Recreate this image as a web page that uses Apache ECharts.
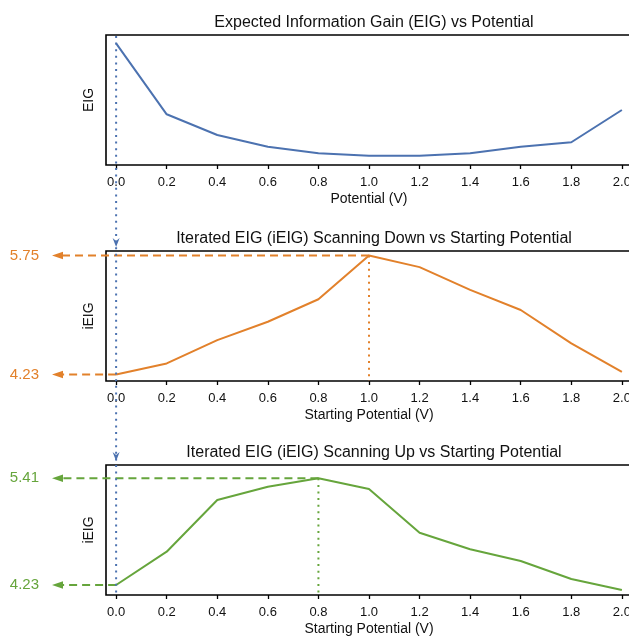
<!DOCTYPE html>
<html>
<head>
<meta charset="utf-8">
<script src="https://cdn.jsdelivr.net/npm/echarts@6/dist/echarts.min.js"></script>
<style>
html,body{margin:0;padding:0;background:#fff;}
#main{width:629px;height:637px;}
</style>
</head>
<body>
<div id="main"></div>
<script>
// ---- data ----
const potentials = [0.0, 0.2, 0.4, 0.6, 0.8, 1.0, 1.2, 1.4, 1.6, 1.8, 2.0];
const tickValues = [0.0, 0.2, 0.4, 0.6, 0.8, 1.0, 1.2, 1.4, 1.6, 1.8, 2.0];
const eigValues = [0.936, 0.390, 0.231, 0.141, 0.090, 0.072, 0.072, 0.090, 0.141, 0.175, 0.423];
const iEigDown = [4.23, 4.371, 4.669, 4.904, 5.191, 5.75, 5.601, 5.310, 5.054, 4.627, 4.263];
const iEigUp = [4.23, 4.598, 5.170, 5.317, 5.41, 5.292, 4.808, 4.625, 4.495, 4.296, 4.174];
const titles = [
  'Expected Information Gain (EIG) vs Potential',
  'Iterated EIG (iEIG) Scanning Down vs Starting Potential',
  'Iterated EIG (iEIG) Scanning Up vs Starting Potential'
];
const xNames = ['Potential (V)', 'Starting Potential (V)', 'Starting Potential (V)'];
const yNames = ['EIG', 'iEIG', 'iEIG'];
const yRanges = [[0, 1], [4.147, 5.807], [4.119, 5.557]];
const xRange = [-0.04, 2.04];

const BLUE = '#4c72b0', ORANGE = '#e2812b', GREEN = '#66a53c';
const FONT = 'Liberation Sans, Arial, sans-serif';

const gridTops = [35, 251, 465];
const chart = echarts.init(document.getElementById('main'), null, {renderer: 'canvas'});

const seriesData = [eigValues, iEigDown, iEigUp];
const colors = [BLUE, ORANGE, GREEN];

const option = {
  animation: false,
  backgroundColor: '#fff',
  title: titles.map((t, i) => ({
    text: t, left: 369, top: gridTops[i] - 25, textAlign: 'center',
    textStyle: {fontFamily: FONT, fontSize: 16, fontWeight: 'normal', color: '#111'}
  })),
  grid: gridTops.map(t => ({
    left: 106, top: t, width: 526, height: 130, show: true,
    outerBoundsMode: 'none', containLabel: false,
    borderColor: '#000', borderWidth: 1.6, backgroundColor: 'transparent'
  })),
  xAxis: [0, 1, 2].map(i => ({
    type: 'value', gridIndex: i, min: xRange[0], max: xRange[1],
    name: xNames[i], nameLocation: 'middle', nameGap: 27,
    nameTextStyle: {fontFamily: FONT, fontSize: 14, color: '#111'},
    axisLine: {show: false},
    axisTick: {show: true, length: 4, inside: false, customValues: tickValues, lineStyle: {color: '#000', width: 1.3}},
    axisLabel: {show: true, customValues: tickValues, margin: 11, fontFamily: FONT, fontSize: 13, color: '#111',
      hideOverlap: false, formatter: v => v.toFixed(1)},
    splitLine: {show: false}
  })),
  yAxis: [0, 1, 2].map(i => ({
    type: 'value', gridIndex: i, min: yRanges[i][0], max: yRanges[i][1],
    name: yNames[i], nameLocation: 'middle', nameGap: 10, nameRotate: 90,
    nameTextStyle: {fontFamily: FONT, fontSize: 14, color: '#111'},
    axisLine: {show: false}, axisTick: {show: false}, axisLabel: {show: false}, splitLine: {show: false}
  })),
  series: [0, 1, 2].map(i => ({
    type: 'line', xAxisIndex: i, yAxisIndex: i,
    data: potentials.map((p, k) => [p, seriesData[i][k]]),
    showSymbol: false, symbol: 'none',
    lineStyle: {color: colors[i], width: 2}, z: 3
  }))
};
chart.setOption(option);

function px(g, x, y) { return chart.convertToPixel({gridIndex: g}, [x, y]); }
function argmax(a) { let m = 0; a.forEach((v, k) => { if (v > a[m]) m = k; }); return m; }

const graphics = [];
const ARROW_TIP_X = 52, ARROW_BASE_X = 63;

// blue dotted vertical line at EIG max
const eMax = argmax(eigValues);
const bx = px(0, potentials[eMax], 0)[0];
const topY = px(0, 0, yRanges[0][1])[1] + 1;
const botY = px(2, 0, yRanges[2][0])[1] - 2;
graphics.push({type: 'line', shape: {x1: bx, y1: topY, x2: bx, y2: botY},
  style: {stroke: BLUE, lineWidth: 2, lineDash: [2, 4.6]}, z: 20});
[1, 2].forEach(g => {
  const tip = px(g, 0, yRanges[g][1])[1] - 4;
  graphics.push({type: 'polygon', shape: {points: [[bx - 3.5, tip - 9], [bx, tip - 6], [bx + 3.5, tip - 9], [bx, tip]]},
    style: {fill: BLUE}, z: 21});
});

// orange / green annotations
[[1, iEigDown, ORANGE], [2, iEigUp, GREEN]].forEach(([g, arr, col]) => {
  const pk = argmax(arr);
  const [pxX, pxY] = px(g, potentials[pk], arr[pk]);
  const [sX, sY] = px(g, potentials[0], arr[0]);
  const bottom = px(g, 0, yRanges[g][0])[1];
  graphics.push({type: 'line', shape: {x1: pxX, y1: pxY, x2: pxX, y2: bottom},
    style: {stroke: col, lineWidth: 2, lineDash: [2, 4.6]}, z: 19});
  [[pxX, pxY, arr[pk]], [sX, sY, arr[0]]].forEach(([x, y, v]) => {
    graphics.push({type: 'line', shape: {x1: x, y1: y, x2: ARROW_BASE_X, y2: y},
      style: {stroke: col, lineWidth: 2, lineDash: [8, 5]}, z: 19});
    graphics.push({type: 'polygon', shape: {points: [[ARROW_TIP_X, y], [ARROW_BASE_X, y - 3.8], [ARROW_BASE_X, y + 3.8]]},
      style: {fill: col}, z: 19});
    graphics.push({type: 'text', x: 39, y: y, style: {text: v.toFixed(2), fill: col, font: '15px ' + FONT,
      align: 'right', verticalAlign: 'middle'}, z: 19});
  });
});

chart.setOption({graphic: graphics});
</script>
</body>
</html>
